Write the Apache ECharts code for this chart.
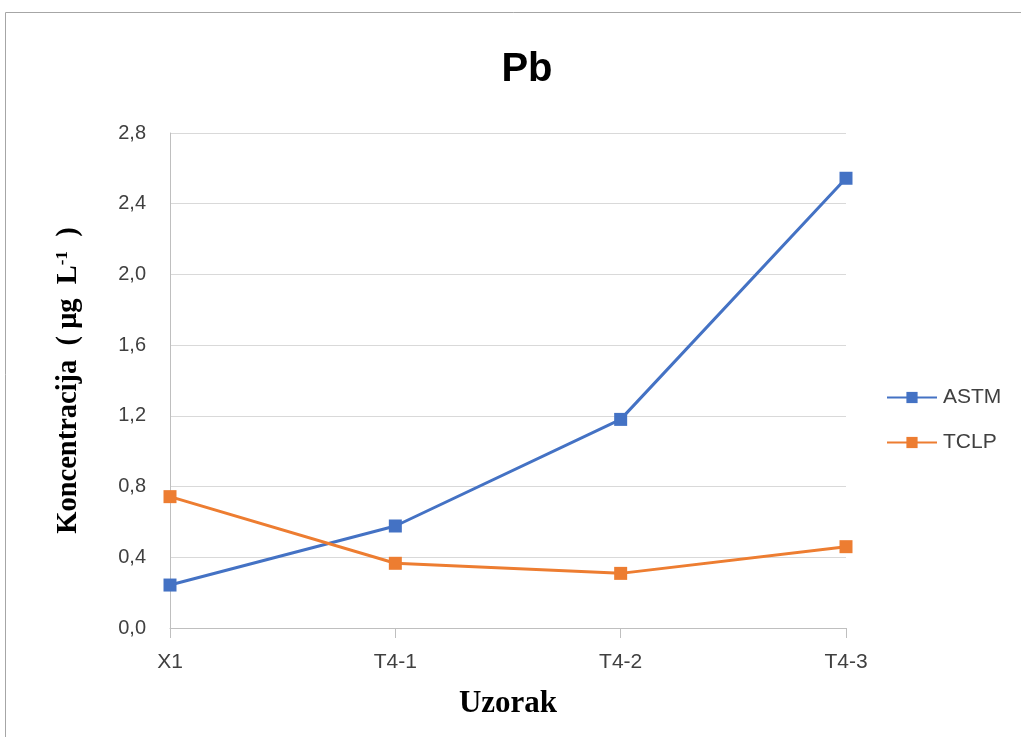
<!DOCTYPE html>
<html><head><meta charset="utf-8">
<script src="https://cdn.jsdelivr.net/npm/echarts@6/dist/echarts.min.js"></script>
<style>html,body{margin:0;padding:0;background:#fff}#c{width:1025px;height:737px}</style>
</head><body><div id="c"></div>
<script>
const categories = ['X1', 'T4-1', 'T4-2', 'T4-3'];
const astm = [0.243, 0.577, 1.18, 2.544];
const tclp = [0.743, 0.366, 0.309, 0.46];
const seriesNames = ['ASTM', 'TCLP'];

const chart = echarts.init(document.getElementById('c'));
const axisFont = '"Liberation Sans", Arial, sans-serif';
const serif = '"Liberation Serif", "Times New Roman", serif';
chart.setOption({
  animation: false,
  graphic: [
    {type: 'polyline', shape: {points: [[5.5, 737], [5.5, 12.5], [1021, 12.5]]}, style: {stroke: '#A6A6A6', lineWidth: 1, fill: null}}
  ],
  title: {
    text: 'Pb', left: 522, top: 45, textAlign: 'center',
    textStyle: {fontFamily: axisFont, fontWeight: 'bold', fontSize: 40, color: '#000'}
  },
  legend: {
    orient: 'vertical', left: 886, top: 387, itemGap: 24, padding: 0,
    itemWidth: 50, itemHeight: 14,
    textStyle: {fontFamily: axisFont, fontSize: 21, color: '#404040', padding: [0, 0, 0, 1]},
    data: seriesNames
  },
  grid: {left: 170, right: 179, top: 133, bottom: 109},
  xAxis: {
    type: 'category', data: categories, boundaryGap: false,
    name: 'Uzorak', nameLocation: 'middle', nameGap: 60,
    nameTextStyle: {fontFamily: serif, fontWeight: 'bold', fontSize: 31, color: '#000'},
    axisLine: {lineStyle: {color: '#BFBFBF', width: 1}},
    axisTick: {show: true, length: 10, lineStyle: {color: '#BFBFBF'}},
    axisLabel: {fontFamily: axisFont, fontSize: 21, color: '#404040', margin: 24}
  },
  yAxis: {
    type: 'value', min: 0, max: 2.8, interval: 0.4,
    name: 'Koncentracija  ( μg  L{sup|-1}  )', nameLocation: 'middle', nameGap: 87, nameRotate: 90,
    nameTextStyle: {
      fontFamily: serif, fontWeight: 'bold', fontSize: 28.5, color: '#000',
      rich: {sup: {fontFamily: serif, fontWeight: 'bold', fontSize: 17, color: '#000', verticalAlign: 'top', padding: [0, 0, 12, 0]}}
    },
    axisLine: {show: true, lineStyle: {color: '#BFBFBF', width: 1}},
    axisTick: {show: false},
    splitLine: {lineStyle: {color: '#D9D9D9', width: 1}},
    axisLabel: {fontFamily: axisFont, fontSize: 20, color: '#404040', margin: 24,
      formatter: v => v.toFixed(1).replace('.', ',')}
  },
  series: [
    {name: seriesNames[0], type: 'line', data: astm, symbol: 'rect', symbolSize: 13,
      lineStyle: {color: '#4472C4', width: 3}, itemStyle: {color: '#4472C4'}},
    {name: seriesNames[1], type: 'line', data: tclp, symbol: 'rect', symbolSize: 13,
      lineStyle: {color: '#ED7D31', width: 3}, itemStyle: {color: '#ED7D31'}}
  ]
});
</script></body></html>
